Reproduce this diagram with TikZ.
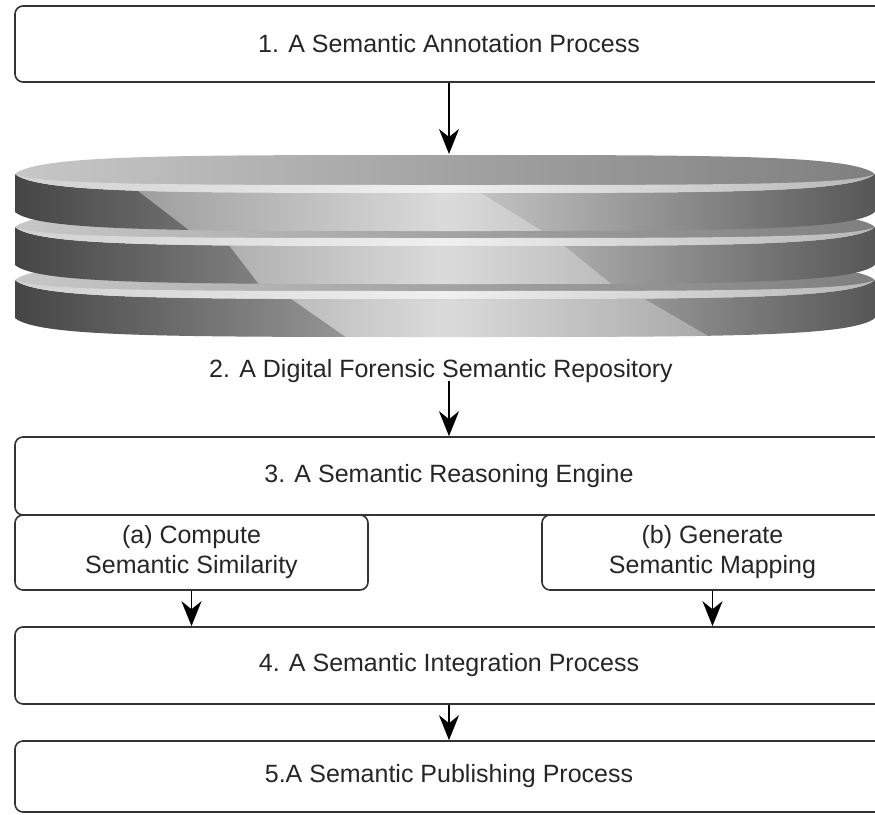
\documentclass[tikz,border=0pt]{standalone}
\usepackage{fontspec}
\setmainfont{Liberation Sans}
\usetikzlibrary{arrows.meta}

% one platter of the repository stack, drawn round (0,0)
\def\platterface{(15,0) .. controls (38,-19) and (170,-19) .. (445,-19) .. controls (720,-19) and (852,-19) .. (875,0) .. controls (852,19) and (720,19) .. (445,19) .. controls (170,19) and (38,19) .. (15,0) -- cycle}
\def\platterside{(15,0) .. controls (38,19) and (170,19) .. (445,19) .. controls (720,19) and (852,19) .. (875,0) -- (875,38) .. controls (852,57) and (720,57) .. (445,57) .. controls (170,57) and (38,57) .. (15,38) -- cycle}
\def\platterrim{(15,0) .. controls (38,19) and (170,19) .. (445,19) .. controls (720,19) and (852,19) .. (875,0) .. controls (852,11) and (720,11) .. (445,11) .. controls (170,11) and (38,11) .. (15,0) -- cycle}

\begin{document}
\begin{tikzpicture}[x=1pt,y=-1pt,
    every node/.style={font=\fontsize{25}{30}\selectfont,text=black!85},
    procbox/.style={draw=black!80,line width=1.6pt,rounded corners=8pt,align=center,inner sep=0pt},
    arr/.style={line width=1.6pt,-{Stealth[length=25pt,width=20pt,inset=8pt]}}]
  \useasboundingbox (0,0) rectangle (875,814);
  % repository stack, bottom platter first
  \foreach \yc/\pa/\pb/\pc/\pd in {280/264/350/612/715, 227/215/261/541/615, 174/116/194/450/547}{
    \begin{scope}[shift={(0,\yc)}]
      \shade[left color=black!68,right color=black!66,middle color=black!20] \platterside;
      \begin{scope}
        \clip \platterside;
        \fill[black,opacity=.15] (0,0) -- (\pa,0) -- (\pb,60) -- (0,60) -- cycle;
        \fill[white,opacity=.3] (\pa,0) -- (\pc,0) -- (\pd,60) -- (\pb,60) -- cycle;
      \end{scope}
      \shade[left color=black!22,right color=black!50] \platterface;
      \shade[left color=black!18,right color=black!28,middle color=black!6] \platterrim;
    \end{scope}
  }
  \node[procbox,minimum width=868pt,minimum height=76pt] (anno) at (449,44) {1. A Semantic Annotation Process};
  \coordinate (disktop) at (449,154);
  \node[anchor=base] (repo) at (441,377) {2. A Digital Forensic Semantic Repository};
  \node[procbox,minimum width=868pt,minimum height=78pt] (reason) at (449,476) {3. A Semantic Reasoning Engine};
  \node[procbox,minimum width=353pt,minimum height=75pt] (simil) at (191.5,552.5) {(a) Compute\\Semantic Similarity};
  \node[procbox,minimum width=341pt,minimum height=75pt] (mapping) at (712.5,552.5) {(b) Generate\\Semantic Mapping};
  \node[procbox,minimum width=868pt,minimum height=77pt] (integ) at (449,665.5) {4. A Semantic Integration Process};
  \node[procbox,minimum width=868pt,minimum height=71pt] (publish) at (449,776.5) {5.A Semantic Publishing Process};
  \path (repo.base -| reason.north) ++(0,4) coordinate (repofoot);
  \draw[arr] (anno.south) -- (disktop);
  \draw[arr] (repofoot) -- (reason.north);
  \draw[arr] (simil.south) -- (simil.south |- integ.north);
  \draw[arr] (mapping.south) -- (mapping.south |- integ.north);
  \draw[arr] (integ.south) -- (publish.north);
\end{tikzpicture}
\end{document}
